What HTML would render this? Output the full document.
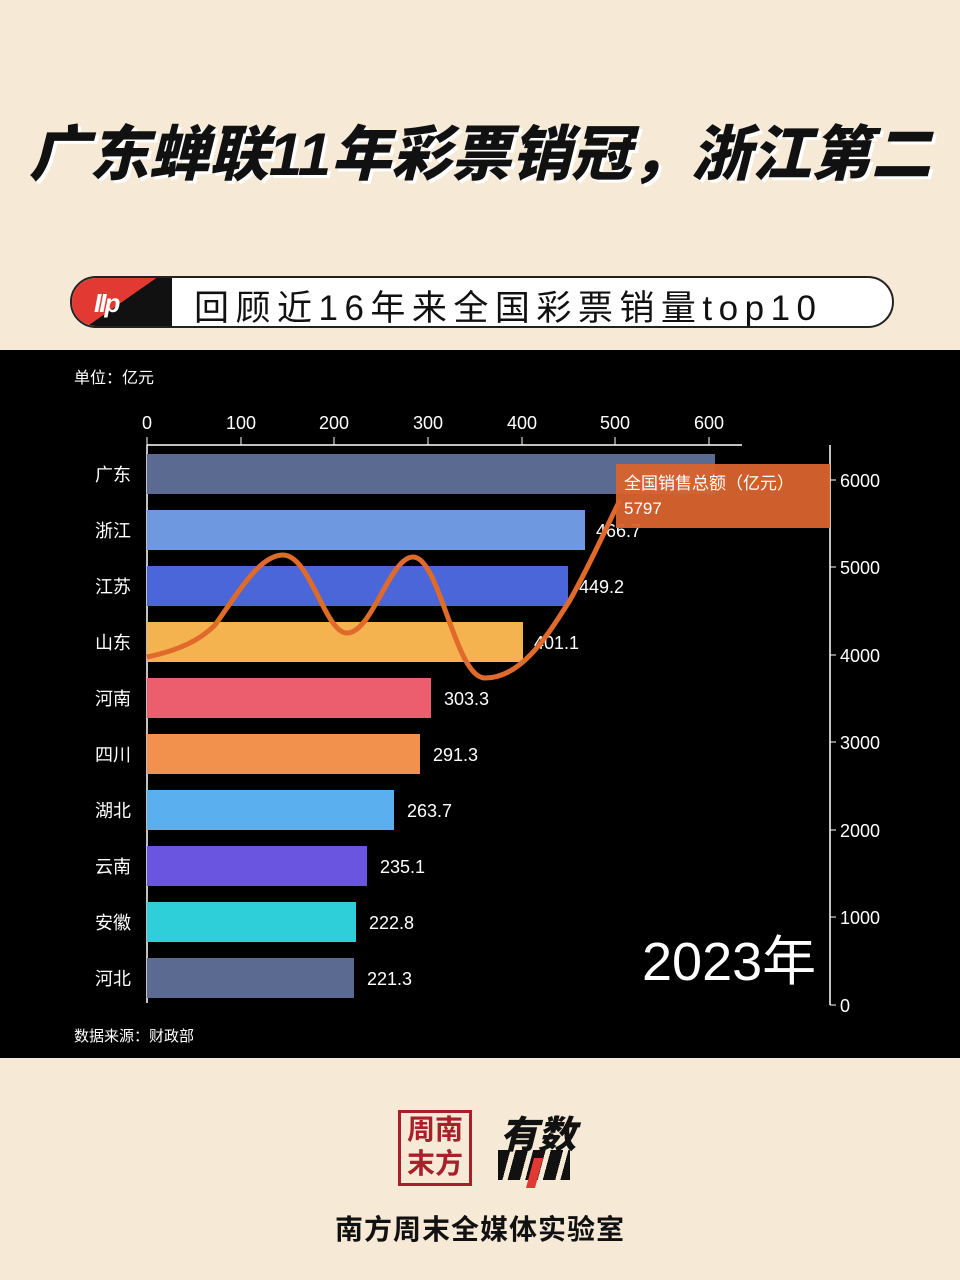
<!DOCTYPE html>
<html><head><meta charset="utf-8"><style>
body{margin:0;width:960px;height:1280px;background:#f6e9d6;font-family:"Liberation Sans","Noto Sans CJK SC",sans-serif;position:relative;overflow:hidden}
.abs{position:absolute}
</style></head><body>
<div class="abs" style="left:0;top:106px;width:960px;text-align:center;font-size:60px;font-weight:900;font-style:italic;color:#111;letter-spacing:0px;text-shadow:3px 3px 0 #fff">广东蝉联11年彩票销冠，浙江第二</div>
<div class="abs" style="left:70px;top:276px;width:820px;height:48px;border:2px solid #222;border-radius:26px;background:#fff;overflow:hidden">
 <div class="abs" style="left:0;top:0;width:100px;height:48px;background:linear-gradient(145deg,#e23a32 50%,#111 50%)"></div>
 <div class="abs" style="left:22px;top:10px;font-size:26px;font-weight:900;font-style:italic;color:#fff;letter-spacing:-2px">IIp</div>
 <div class="abs" style="left:122px;top:2px;font-size:35px;color:#111;letter-spacing:6.5px">回顾近16年来全国彩票销量top10</div>
</div>
<svg class="abs" style="left:0;top:350px" width="960" height="708" viewBox="0 350 960 708">
<rect x="0" y="350" width="960" height="708" fill="#000"/>
<g font-family="Liberation Sans,Noto Sans CJK SC,sans-serif" fill="#fff">
<text x="74" y="383" font-size="16">单位：亿元</text>
<text x="74" y="1041" font-size="15">数据来源：财政部</text>
<line x1="147" y1="445" x2="742" y2="445" stroke="#fff" stroke-width="1.5"/>
<line x1="147" y1="445" x2="147" y2="1003" stroke="#fff" stroke-width="1.5"/>
<g font-size="18" text-anchor="middle">
<text x="147" y="429">0</text><text x="241" y="429">100</text><text x="334" y="429">200</text><text x="428" y="429">300</text><text x="522" y="429">400</text><text x="615" y="429">500</text><text x="709" y="429">600</text>
</g>
<g stroke="#fff"><line x1="147" y1="437" x2="147" y2="445"/><line x1="241" y1="437" x2="241" y2="445"/><line x1="334" y1="437" x2="334" y2="445"/><line x1="428" y1="437" x2="428" y2="445"/><line x1="522" y1="437" x2="522" y2="445"/><line x1="615" y1="437" x2="615" y2="445"/><line x1="709" y1="437" x2="709" y2="445"/></g>
<rect x="147" y="454" width="568" height="40" fill="#5a6a90"/>
<rect x="147" y="510" width="438" height="40" fill="#6e98e0"/>
<rect x="147" y="566" width="421" height="40" fill="#4a66d8"/>
<rect x="147" y="622" width="376" height="40" fill="#f5b350"/>
<rect x="147" y="678" width="284" height="40" fill="#ec5e6e"/>
<rect x="147" y="734" width="273" height="40" fill="#f2914e"/>
<rect x="147" y="790" width="247" height="40" fill="#5ab0ee"/>
<rect x="147" y="846" width="220" height="40" fill="#6a55e0"/>
<rect x="147" y="902" width="209" height="40" fill="#2ecfd8"/>
<rect x="147" y="958" width="207" height="40" fill="#5a6a90"/>
<g font-size="18" text-anchor="end">
<text x="131" y="481">广东</text><text x="131" y="537">浙江</text><text x="131" y="593">江苏</text><text x="131" y="649">山东</text><text x="131" y="705">河南</text><text x="131" y="761">四川</text><text x="131" y="817">湖北</text><text x="131" y="873">云南</text><text x="131" y="929">安徽</text><text x="131" y="985">河北</text>
</g>
<g font-size="18">
<text x="596" y="537">466.7</text><text x="579" y="593">449.2</text><text x="534" y="649">401.1</text><text x="444" y="705">303.3</text><text x="433" y="761">291.3</text><text x="407" y="817">263.7</text><text x="380" y="873">235.1</text><text x="369" y="929">222.8</text><text x="367" y="985">221.3</text>
</g>
<path d="M147,657 C180,650 200,640 215,625 C240,590 260,555 283,555 C310,555 325,633 347,633 C372,633 390,557 413,557 C440,557 455,678 485,678 C520,678 545,640 570,600 C590,565 605,530 620,500" fill="none" stroke="#e06a2a" stroke-width="5"/>
<line x1="830" y1="445" x2="830" y2="1005" stroke="#fff" stroke-width="1.5"/>
<g font-size="18">
<text x="840" y="487">6000</text><text x="840" y="574">5000</text><text x="840" y="662">4000</text><text x="840" y="749">3000</text><text x="840" y="837">2000</text><text x="840" y="924">1000</text><text x="840" y="1012">0</text>
</g>
<g stroke="#fff"><line x1="830" y1="480" x2="836" y2="480"/><line x1="830" y1="567" x2="836" y2="567"/><line x1="830" y1="655" x2="836" y2="655"/><line x1="830" y1="742" x2="836" y2="742"/><line x1="830" y1="830" x2="836" y2="830"/><line x1="830" y1="917" x2="836" y2="917"/><line x1="830" y1="1005" x2="836" y2="1005"/></g>
<rect x="616" y="464" width="214" height="64" fill="#d9632e" opacity="0.95"/>
<text x="624" y="489" font-size="17">全国销售总额（亿元）</text>
<text x="624" y="514" font-size="17">5797</text>
<text x="642" y="980" font-size="54">2023年</text>
</g>
</svg>
<div class="abs" style="left:398px;top:1110px;width:68px;height:70px;border:3px solid #a8202a;color:#a8202a;font-size:28px;line-height:34px;text-align:center;font-weight:bold">周南<br>末方</div>
<div class="abs" style="left:500px;top:1104px;font-size:38px;font-weight:900;font-style:italic;color:#111">有数</div>
<div class="abs" style="left:498px;top:1150px;width:72px;height:30px;background:repeating-linear-gradient(105deg,#111 0 12px,transparent 12px 17px)"></div>
<div class="abs" style="left:530px;top:1158px;width:9px;height:30px;background:#e23a32;transform:skew(-15deg)"></div>
<div class="abs" style="left:0;top:1208px;width:960px;text-align:center;font-size:28px;font-weight:bold;color:#111;letter-spacing:1px">南方周末全媒体实验室</div>
</body></html>
